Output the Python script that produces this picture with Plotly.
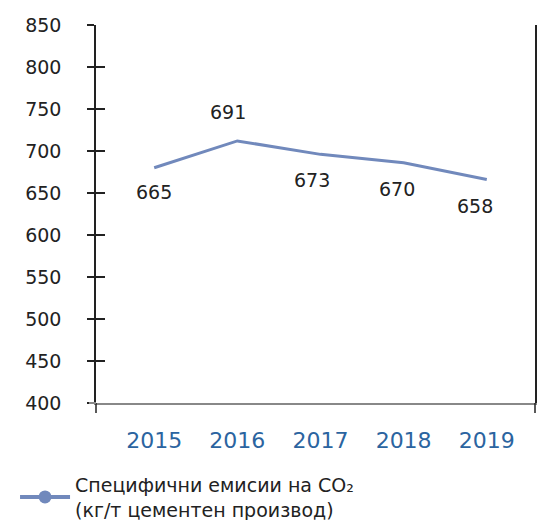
import plotly.graph_objects as go

years = [2015, 2016, 2017, 2018, 2019]
line_values = [680, 712, 696, 686, 666]
label_values = ["665", "691", "673", "670", "658"]
y_ticks = [400, 450, 500, 550, 600, 650, 700, 750, 800, 850]
series_name = "Специфични емисии на CO₂<br>(кг/т цементен производ)"

# label offsets (style)
label_yshift = [-24, 29, -26, -26, -26]
label_xshift = [0, -9, -8, -7, -12]

FONT = "DejaVu Sans, Verdana, sans-serif"
LINE_COLOR = "#7189BC"
DARK = "#222222"

fig = go.Figure()
fig.add_trace(go.Scatter(
    x=years, y=line_values, mode="lines",
    line=dict(color=LINE_COLOR, width=3),
    name=series_name, showlegend=False, yaxis="y", hoverinfo="skip",
))
# legend entry (line + marker symbol)
fig.add_trace(go.Scatter(
    x=[None], y=[None], mode="lines+markers",
    line=dict(color=LINE_COLOR, width=4),
    marker=dict(size=13, color=LINE_COLOR),
    name=series_name, showlegend=True,
))
# helper axis for inward tick marks
fig.add_trace(go.Scatter(x=[None], y=[None], yaxis="y2", showlegend=False, hoverinfo="skip"))

for yr, v, t, ys, xs in zip(years, line_values, label_values, label_yshift, label_xshift):
    fig.add_annotation(x=yr, y=v, text=t, showarrow=False, yshift=ys, xshift=xs,
                       font=dict(family=FONT, size=19, color=DARK))

yr_range = [400, 850]
fig.update_layout(
    width=537, height=520,
    margin=dict(l=96, r=2, t=25, b=117, autoexpand=False),
    paper_bgcolor="white", plot_bgcolor="white",
    font=dict(family=FONT, color=DARK),
    xaxis=dict(type="linear", range=[2014.3, 2019.58], tickvals=years,
               ticktext=[str(y) for y in years], automargin=False, tickangle=0,
               showgrid=False, zeroline=False, showline=True,
               linecolor="#888888", linewidth=2, ticks="",
               tickfont=dict(family=FONT, size=22, color="#2b64a0"),
               ticklabelstandoff=17),
    yaxis=dict(range=yr_range, tickvals=y_ticks, showgrid=False, zeroline=False,
               showline=True, linecolor=DARK, linewidth=1.5, mirror=True,
               automargin=False,
               ticks="outside", ticklen=7, tickwidth=1.5, tickcolor=DARK,
               tickfont=dict(family=FONT, size=19, color=DARK),
               ticklabelstandoff=22),
    yaxis2=dict(range=yr_range, tickvals=y_ticks, overlaying="y", side="left",
                showgrid=False, zeroline=False, showline=False, automargin=False,
                ticks="inside", ticklen=9, tickwidth=1.5, tickcolor=DARK,
                showticklabels=False),
    legend=dict(xref="container", yref="container", x=0.028, y=0.1044,
                xanchor="left", yanchor="top", itemwidth=50,
                font=dict(family=FONT, size=19, color=DARK),
                bgcolor="rgba(0,0,0,0)"),
    showlegend=True,
)
# extensions of the frame lines below / left of the plot area
ext = 10 / 378
fig.add_shape(type="line", xref="paper", yref="paper", x0=0, x1=0, y0=-ext, y1=0,
              line=dict(color=DARK, width=1.5))
fig.add_shape(type="line", xref="paper", yref="paper", x0=1, x1=1, y0=-ext, y1=0,
              line=dict(color=DARK, width=1.5))
fig.add_shape(type="line", xref="paper", yref="paper", x0=-7 / 439, x1=0, y0=0, y1=0,
              line=dict(color="#888888", width=2))

fig.write_html("out.html", config={"displayModeBar": False},
               post_script="document.body.style.margin='0';document.body.style.overflow='hidden';")
